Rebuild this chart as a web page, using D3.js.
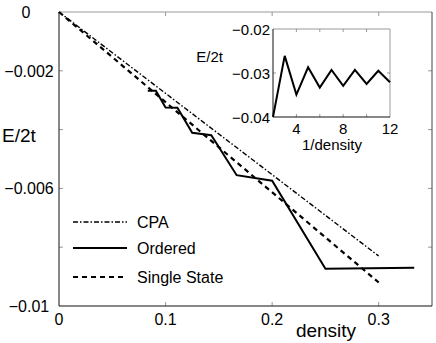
<!DOCTYPE html>
<html>
<head>
<meta charset="utf-8">
<script src="https://cdn.jsdelivr.net/npm/d3@7"></script>
<style>
  body { margin: 0; background: #fff; }
  text { font-family: "Liberation Sans", Arial, Helvetica, sans-serif; fill: #000; }
</style>
</head>
<body>
<div id="chart"></div>
<script>
// data
const orderedDensity = [0.0833, 0.0909, 0.1, 0.1111, 0.125, 0.1429, 0.1667, 0.2, 0.25, 0.3333];
const orderedE = [-0.00268, -0.00268, -0.00325, -0.00326, -0.00411, -0.00419, -0.00555, -0.00574, -0.00873, -0.0087];
const cpaDensity = [0, 0.3];
const cpaE = [0, -0.0083];
const singleDensity = [0, 0.3];
const singleE = [0, -0.0092];
const insetN = [2, 3, 4, 5, 6, 7, 8, 9, 10, 11, 12];
const insetE = [-0.04, -0.0261, -0.0349, -0.0287, -0.0333, -0.0293, -0.0329, -0.0293, -0.0325, -0.0295, -0.0321];
const xTicks = [0, 0.1, 0.2, 0.3];
const yTicks = [0, -0.002, -0.004, -0.006, -0.008, -0.01];
const yTickLabels = { "0": "0", "-0.002": "\u22120.002", "-0.006": "\u22120.006", "-0.01": "\u22120.01" };
const insetXTicks = [2, 4, 6, 8, 10, 12];
const insetXLabels = { 4: "4", 8: "8", 12: "12" };
const insetYTicks = [-0.02, -0.03, -0.04];

const W = 436, H = 343;
const svg = d3.select("#chart").append("svg")
    .attr("width", W)
    .attr("height", H);

// main axes
const x = d3.scaleLinear().domain([0, 0.35]).range([59, 432]);
const y = d3.scaleLinear().domain([-0.01, 0]).range([306, 12]);

svg.append("rect")
    .attr("x", 59).attr("y", 12)
    .attr("width", 432 - 59).attr("height", 306 - 12)
    .attr("fill", "#fff");

// tick marks (inward, grey) on all four sides
const tk = svg.append("g").attr("stroke", "#999").attr("stroke-width", 1);
xTicks.slice(1).forEach(v => {
    tk.append("line").attr("x1", x(v)).attr("x2", x(v)).attr("y1", 306).attr("y2", 302);
    tk.append("line").attr("x1", x(v)).attr("x2", x(v)).attr("y1", 12).attr("y2", 16);
});
yTicks.slice(1, -1).forEach(v => {
    tk.append("line").attr("x1", 59).attr("x2", 63).attr("y1", y(v)).attr("y2", y(v));
    tk.append("line").attr("x1", 432).attr("x2", 428).attr("y1", y(v)).attr("y2", y(v));
});

// frame: top grey, others dark
svg.append("line").attr("x1", 59).attr("x2", 432).attr("y1", 12).attr("y2", 12).attr("stroke", "#999");
svg.append("line").attr("x1", 432).attr("x2", 432).attr("y1", 12).attr("y2", 306).attr("stroke", "#444");
svg.append("line").attr("x1", 59).attr("x2", 59).attr("y1", 12).attr("y2", 306).attr("stroke", "#111");
svg.append("line").attr("x1", 59).attr("x2", 432).attr("y1", 306).attr("y2", 306).attr("stroke", "#111");

// tick labels
xTicks.forEach(v => {
    svg.append("text")
        .attr("x", x(v)).attr("y", 325)
        .attr("text-anchor", "middle")
        .style("font-size", "16px")
        .text(v === 0 ? "0" : d3.format(".1f")(v));
});
yTicks.forEach(v => {
    const lab = yTickLabels[String(v)];
    if (!lab) return;
    svg.append("text")
        .attr("x", v === 0 ? 26 : 29).attr("y", y(v))
        .attr("dy", "0.38em")
        .attr("text-anchor", "middle")
        .style("font-size", "16px")
        .text(lab);
});

// axis labels
svg.append("text").attr("x", 2).attr("y", 142)
    .style("font-size", "19px").text("E/2t");
svg.append("text").attr("x", 326).attr("y", 337)
    .attr("text-anchor", "middle")
    .style("font-size", "19px").text("density");

// lines
const line = d3.line().x(d => x(d[0])).y(d => y(d[1]));
const zip = (a, b) => a.map((v, i) => [v, b[i]]);

svg.append("path")
    .attr("d", line(zip(cpaDensity, cpaE)))
    .attr("fill", "none").attr("stroke", "#000")
    .attr("stroke-width", 1.4)
    .attr("stroke-dasharray", "5,2,1.5,2");
svg.append("path")
    .attr("d", line(zip(singleDensity, singleE)))
    .attr("fill", "none").attr("stroke", "#000")
    .attr("stroke-width", 2.2)
    .attr("stroke-dasharray", "5,4");
svg.append("path")
    .attr("d", line(zip(orderedDensity, orderedE)))
    .attr("fill", "none").attr("stroke", "#000")
    .attr("stroke-width", 2)
    .attr("stroke-linejoin", "miter");

// legend
const legend = [
    { name: "CPA", width: 1.4, dash: "5,2,1.5,2", y: 222 },
    { name: "Ordered", width: 2, dash: null, y: 248 },
    { name: "Single State", width: 2.2, dash: "5,4", y: 277 }
];
legend.forEach(d => {
    svg.append("line")
        .attr("x1", 73).attr("x2", 127).attr("y1", d.y).attr("y2", d.y)
        .attr("stroke", "#000").attr("stroke-width", d.width)
        .attr("stroke-dasharray", d.dash);
    svg.append("text")
        .attr("x", 137).attr("y", d.y + 6)
        .style("font-size", "16px").text(d.name);
});

// inset
const ix = d3.scaleLinear().domain([2, 12]).range([273, 390]);
const iy = d3.scaleLinear().domain([-0.04, -0.02]).range([117, 29]);

svg.append("rect")
    .attr("x", 273).attr("y", 29)
    .attr("width", 390 - 273).attr("height", 117 - 29)
    .attr("fill", "#fff");

const itk = svg.append("g").attr("stroke", "#999");
insetXTicks.slice(1, -1).forEach(v => {
    itk.append("line").attr("x1", ix(v)).attr("x2", ix(v)).attr("y1", 117).attr("y2", 114);
    itk.append("line").attr("x1", ix(v)).attr("x2", ix(v)).attr("y1", 29).attr("y2", 32);
});
itk.append("line").attr("x1", 273).attr("x2", 276).attr("y1", iy(-0.03)).attr("y2", iy(-0.03));
itk.append("line").attr("x1", 390).attr("x2", 387).attr("y1", iy(-0.03)).attr("y2", iy(-0.03));

svg.append("line").attr("x1", 273).attr("x2", 390).attr("y1", 29).attr("y2", 29).attr("stroke", "#999");
svg.append("line").attr("x1", 390).attr("x2", 390).attr("y1", 29).attr("y2", 117).attr("stroke", "#999");
svg.append("line").attr("x1", 273).attr("x2", 273).attr("y1", 29).attr("y2", 117).attr("stroke", "#111");
svg.append("line").attr("x1", 273).attr("x2", 390).attr("y1", 117).attr("y2", 117).attr("stroke", "#111");

insetYTicks.forEach(v => {
    svg.append("text")
        .attr("x", 270).attr("y", iy(v))
        .attr("dy", "0.38em")
        .attr("text-anchor", "end")
        .style("font-size", "15px")
        .text("\u2212" + d3.format(".2f")(-v));
});
insetXTicks.forEach(v => {
    if (!insetXLabels[v]) return;
    svg.append("text")
        .attr("x", ix(v)).attr("y", 134)
        .attr("text-anchor", "middle")
        .style("font-size", "15px")
        .text(insetXLabels[v]);
});
svg.append("text").attr("x", 223).attr("y", 62)
    .attr("text-anchor", "end")
    .style("font-size", "15px").text("E/2t");
svg.append("text").attr("x", 332).attr("y", 150)
    .attr("text-anchor", "middle")
    .style("font-size", "15px").text("1/density");

const iline = d3.line().x(d => ix(d[0])).y(d => iy(d[1]));
svg.append("path")
    .attr("d", iline(zip(insetN, insetE)))
    .attr("fill", "none").attr("stroke", "#000")
    .attr("stroke-width", 2);
</script>
</body>
</html>
